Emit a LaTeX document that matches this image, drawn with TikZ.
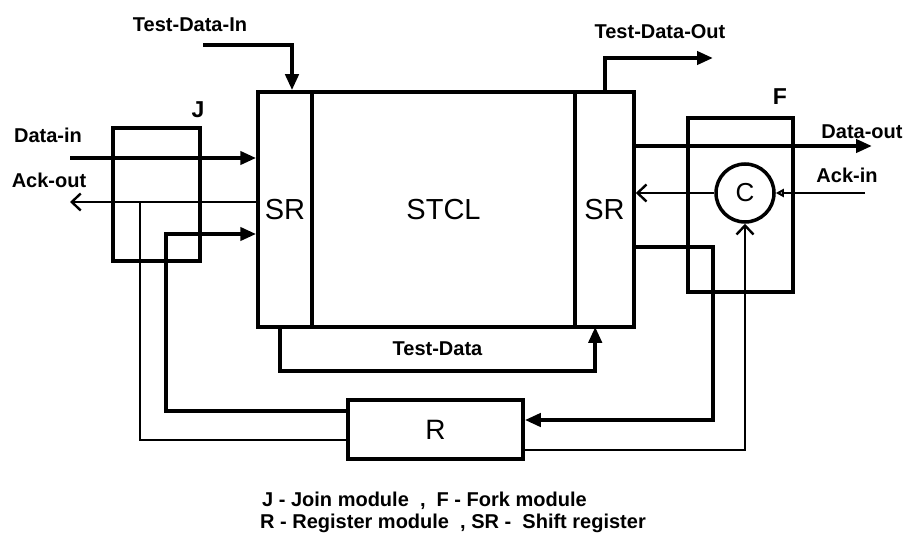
\documentclass[tikz,border=0pt]{standalone}
\usepackage{fontspec}
\setmainfont{Liberation Sans}
\usetikzlibrary{arrows.meta}
\newcommand{\lblfont}{\fontsize{20}{22}\selectfont\bfseries}
\newcommand{\bigfont}{\fontsize{29}{32}\selectfont}
\tikzset{
  modbox/.style={draw, line width=3.5pt, inner sep=0pt},
  bigline/.style={line width=4pt},
  bigarrow/.style={bigline, -{Triangle[length=16pt,width=13pt]}},
  thinline/.style={line width=2.4pt},
  thinarrow/.style={thinline, -{Straight Barb[length=9pt,width=17pt,line width=2.4pt]}},
  lbl/.style={font=\lblfont, inner sep=0pt}
}
\begin{document}
\begin{tikzpicture}[x=1pt, y=-1pt]
\useasboundingbox (0,0) rectangle (909,548);
\node[modbox, minimum width=54pt, minimum height=235pt, font=\bigfont] (srL) at (285,209.5) {SR};
\node[modbox, minimum width=263pt, minimum height=235pt, font=\bigfont] (stcl) at (443.5,209.5) {STCL};
\node[modbox, minimum width=59pt, minimum height=235pt, font=\bigfont] (srR) at (604.5,209.5) {SR};
\node[modbox, minimum width=87pt, minimum height=133pt] (join) at (156.5,194.5) {};
\node[modbox, minimum width=105pt, minimum height=174pt] (fork) at (740.5,205) {};
\node[modbox, circle, minimum size=58pt, font=\fontsize{26}{28}\selectfont] (celem) at (745,193) {C};
\node[inner sep=0pt, minimum width=315pt, minimum height=44pt, font=\lblfont] (tdata) at (437.5,349) {Test-Data};
\node[modbox, minimum width=175pt, minimum height=59pt, font=\fontsize{28}{30}\selectfont] (reg) at (435.5,429.5) {R};
\node[font=\fontsize{23}{25}\selectfont\bfseries, inner sep=0pt] (jlbl) at (198,110) {J};
\node[font=\fontsize{23}{25}\selectfont\bfseries, inner sep=0pt] (flbl) at (780,97) {F};
\node[lbl] (dinlbl) at (48,135) {Data-in};
\node[lbl] (aoutlbl) at (49,180) {Ack-out};
\node[lbl] (tdinlbl) at (190,25) {Test-Data-In};
\node[lbl] (tdoutlbl) at (660,32) {Test-Data-Out};
\node[lbl] (doutlbl) at (862,132) {Data-out};
\node[lbl] (ainlbl) at (847,175) {Ack-in};
\node[lbl, anchor=west] (leg1) at (262,501) {J - Join module \ , \ F - Fork module};
\node[lbl, anchor=west] (leg2) at (260,523) {R - Register module \ , SR - \ Shift register};
\coordinate (din) at (70,158);
\coordinate (aout) at (70,202);
\coordinate (ackbr) at (140,202);
\coordinate (regbr) at (166,234);
\coordinate (tdin) at (203,45);
\coordinate (tdout) at (713,58);
\coordinate (dout) at (872,146);
\coordinate (ain) at (865,193);
\coordinate (fk) at (713,247);
\draw[bigarrow] (din) -- (din -| srL.west);
\draw[thinarrow] (aout -| srL.west) -- (aout);
\draw[thinline] (ackbr) |- ([yshift=-10.5pt]reg.west);
\draw[bigarrow] ([yshift=18.5pt]reg.west) -| (regbr) -- (regbr -| srL.west);
\draw[bigarrow] (tdin) -| ([xshift=7pt]srL.north);
\draw[bigarrow] (srR.north) |- (tdout);
\draw[bigarrow] (tdata.north west) |- (tdata.south east) -- (tdata.north east);
\draw[bigarrow] (dout -| srR.east) -- (dout);
\draw[thinarrow] (celem.west) -- (celem.west -| srR.east);
\draw[thinline, -{Triangle[open, length=8pt, width=8pt]}] (ain) -- (celem.east);
\draw[bigarrow] (fk -| srR.east) -- (fk) |- ([yshift=9.5pt]reg.east);
\draw[thinarrow] ([yshift=-20.5pt]reg.east) -| (celem.south);
\end{tikzpicture}
\end{document}
